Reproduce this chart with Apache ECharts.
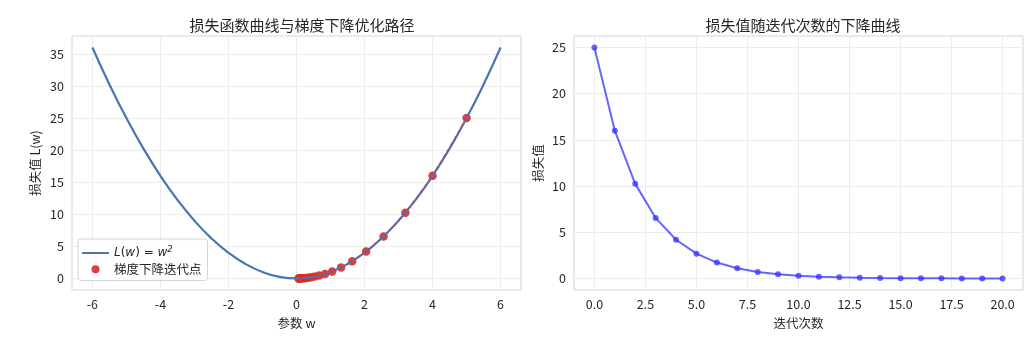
<!DOCTYPE html>
<html>
<head>
<meta charset="utf-8">
<script src="https://cdn.jsdelivr.net/npm/echarts@6/dist/echarts.min.js"></script>
<style>
html,body{margin:0;padding:0;background:#fff;}
#c{width:1024px;height:353px;}
</style>
</head>
<body>
<div id="c"></div>
<script>
// ---- data ----
const curveW = [-6,-5.5,-5,-4.5,-4,-3.5,-3,-2.5,-2,-1.5,-1,-0.5,0,0.5,1,1.5,2,2.5,3,3.5,4,4.5,5,5.5,6];
const curveL = [36,30.25,25,20.25,16,12.25,9,6.25,4,2.25,1,0.25,0,0.25,1,2.25,4,6.25,9,12.25,16,20.25,25,30.25,36];
const iterations = [0,1,2,3,4,5,6,7,8,9,10,11,12,13,14,15,16,17,18,19,20];
const pathW = [5,4,3.2,2.56,2.048,1.638,1.311,1.049,0.839,0.671,0.537,0.429,0.344,0.275,0.220,0.176,0.141,0.113,0.090,0.072,0.058];
const pathLoss = [25,16,10.24,6.554,4.194,2.684,1.718,1.100,0.704,0.450,0.288,0.184,0.118,0.076,0.048,0.031,0.020,0.013,0.008,0.005,0.003];
const leftXTicks = [-6,-4,-2,0,2,4,6];
const leftYTicks = [0,5,10,15,20,25,30,35];
const rightXTicks = [0,2.5,5,7.5,10,12.5,15,17.5,20];
const rightYTicks = [0,5,10,15,20,25];
const titles = ['损失函数曲线与梯度下降优化路径','损失值随迭代次数的下降曲线'];

const zip = (a,b) => a.map((v,i)=>[v,b[i]]);
const FONT = '"Noto Sans CJK SC", "Noto Sans", sans-serif';
const TXT = '#262626';
const GRIDC = '#ececec';

function axisCommon(ticks, fmt){
  return {
    axisLine:{show:false},
    axisTick:{show:false, customValues:ticks},
    axisLabel:{customValues:ticks, color:TXT, fontSize:12.5, fontFamily:FONT, margin:8, formatter:fmt},
    splitLine:{show:true, lineStyle:{color:GRIDC, width:1}},
    nameTextStyle:{color:TXT, fontSize:12.5, fontFamily:FONT}
  };
}

const chart = echarts.init(document.getElementById('c'), null, {renderer:'canvas'});
chart.setOption({
  animation:false,
  backgroundColor:'#fff',
  title:[
    {text:titles[0], left:297, top:13, textAlign:'center', textStyle:{fontSize:15, fontWeight:'normal', color:TXT, fontFamily:FONT}},
    {text:titles[1], left:798, top:13, textAlign:'center', textStyle:{fontSize:15, fontWeight:'normal', color:TXT, fontFamily:FONT}}
  ],
  grid:[
    {left:72, top:36, width:449, height:254, show:true, borderColor:'#d4d4d4', borderWidth:1, backgroundColor:'transparent'},
    {left:574, top:36, width:449, height:254, show:true, borderColor:'#d4d4d4', borderWidth:1, backgroundColor:'transparent'}
  ],
  xAxis:[
    Object.assign(axisCommon(leftXTicks, v=>String(v)), {type:'value', gridIndex:0, min:-6.6, max:6.6, name:'参数 w', nameLocation:'middle', nameGap:27}),
    Object.assign(axisCommon(rightXTicks, v=>v.toFixed(1)), {type:'value', gridIndex:1, min:-1, max:21, name:'迭代次数', nameLocation:'middle', nameGap:27})
  ],
  yAxis:[
    Object.assign(axisCommon(leftYTicks, v=>String(v)), {type:'value', gridIndex:0, min:-1.8, max:37.8, name:'损失值 L(w)', nameLocation:'middle', nameGap:30}),
    Object.assign(axisCommon(rightYTicks, v=>String(v)), {type:'value', gridIndex:1, min:-1.25, max:26.25, name:'损失值', nameLocation:'middle', nameGap:30})
  ],
  legend:{
    left:78, top:239, orient:'vertical',
    data:[
      {name:'curve', icon:'path://M0,0L30,0L30,2.2L0,2.2Z', itemStyle:{color:'#4c74b2'}},
      {name:'scatter', icon:'circle'}
    ],
    itemWidth:27, itemHeight:8, itemGap:4,
    padding:[6,6,5,4],
    borderColor:'#d4d4d4', borderWidth:1, borderRadius:3,
    backgroundColor:'rgba(255,255,255,0.8)',
    textStyle:{color:TXT, fontSize:12.5, fontFamily:FONT,
      rich:{
        i:{fontFamily:'DejaVu Sans', fontStyle:'italic', fontSize:12, color:TXT},
        n:{fontFamily:'DejaVu Sans', fontSize:12, color:TXT},
        s:{fontFamily:'DejaVu Sans', fontStyle:'italic', fontSize:8.5, color:TXT, padding:[0,0,7,0]}
      }},
    formatter: n => n==='curve' ? '{i|L}{n|(}{i|w}{n|) = }{i|w}{s|2}' : '梯度下降迭代点'
  },
  series:[
    {name:'scatter', type:'scatter', xAxisIndex:0, yAxisIndex:0, data:zip(pathW,pathLoss), symbolSize:8.5,
      itemStyle:{color:'#dd2a22', opacity:0.9}, z:2},
    {name:'curve', type:'line', xAxisIndex:0, yAxisIndex:0, data:zip(curveW,curveL), smooth:true, symbol:'none',
      lineStyle:{color:'#4c74b2', width:2.2}, itemStyle:{color:'#4c74b2'}, z:3},
    {name:'path', type:'line', xAxisIndex:0, yAxisIndex:0, data:zip(pathW,pathLoss), symbol:'none',
      lineStyle:{color:'#e03030', width:1.4, type:[4,3], opacity:0.5}, z:4},
    {name:'loss', type:'line', xAxisIndex:1, yAxisIndex:1, data:zip(iterations,pathLoss), symbol:'circle', symbolSize:6,
      lineStyle:{color:'#3333ff', width:2, opacity:0.75}, itemStyle:{color:'#3333ff', opacity:0.75}, z:3}
  ]
});
</script>
</body>
</html>
